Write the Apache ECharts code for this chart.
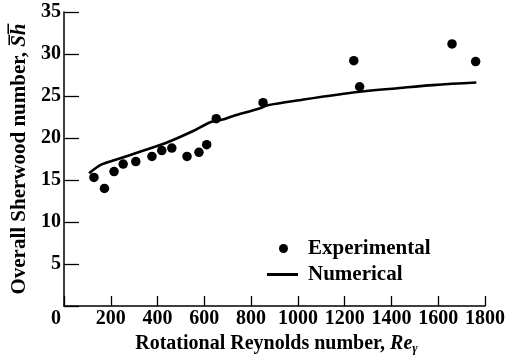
<!DOCTYPE html>
<html>
<head>
<meta charset="utf-8">
<script src="https://cdn.jsdelivr.net/npm/echarts@6/dist/echarts.min.js"></script>
<style>
  html, body { margin: 0; padding: 0; background: #fff; }
  #chart { width: 514px; height: 360px; }
</style>
</head>
<body>
<div id="chart"></div>
<script>
// Experimental measurements: rotational Reynolds number vs overall Sherwood number
const expRe = [128, 173, 214, 253, 307, 376, 418, 461, 526, 577, 610, 651, 851, 1239, 1264, 1659, 1760];
const expSh = [15.3, 14.0, 16.0, 16.9, 17.2, 17.8, 18.5, 18.8, 17.8, 18.3, 19.2, 22.3, 24.2, 29.2, 26.1, 31.2, 29.1];

// Numerical prediction curve
const numRe = [107, 157, 221, 340, 435, 550, 628, 678, 721, 835, 871, 1006, 1263, 1435, 1577, 1763];
const numSh = [15.8, 16.8, 17.4, 18.5, 19.4, 20.8, 21.9, 22.2, 22.6, 23.5, 23.9, 24.5, 25.5, 25.95, 26.3, 26.6];

// Axis ranges
const xMin = 0, xMax = 1800, xStep = 200;
const yMin = 0, yMax = 35, yStep = 5;

const FONT = '"Liberation Serif", "Times New Roman", serif';
const INK = '#000';

const txt = (size, extra) => Object.assign(
  { fontFamily: FONT, fontSize: size, fontWeight: 'bold', color: INK }, extra || {});

const chart = echarts.init(document.getElementById('chart'), null, { renderer: 'canvas' });

chart.setOption({
  backgroundColor: '#fff',
  animation: false,
  grid: { left: 64, right: 29, top: 12, bottom: 54, containLabel: false, outerBoundsMode: 'none' },
  legend: [
    {
      data: [{ name: 'Experimental', icon: 'circle' }],
      left: 274, top: 233,
      itemWidth: 31, itemHeight: 9, itemGap: 0,
      textStyle: txt(21, { padding: [0, 0, 0, 4] })
    },
    {
      data: [{ name: 'Numerical', icon: 'rect' }],
      left: 262, top: 259,
      itemWidth: 31, itemHeight: 3, itemGap: 0,
      textStyle: txt(21, { padding: [0, 0, 0, 5] })
    }
  ],
  xAxis: {
    type: 'value',
    min: xMin, max: xMax, interval: xStep,
    splitLine: { show: false },
    axisLine: { onZero: false, lineStyle: { color: INK, width: 1.5 } },
    axisTick: { inside: true, length: 10, lineStyle: { color: INK, width: 1.3 } },
    axisLabel: Object.assign(txt(20), {
      margin: 3,
      formatter: v => v === 0 ? '{z|0}' : String(v),
      rich: { z: txt(20, { padding: [0, 16, 0, 0] }) }
    }),
    name: 'Rotational Reynolds number, {it|Re}{sub|γ}',
    nameLocation: 'middle',
    nameGap: 21,
    nameTextStyle: txt(20, {
      padding: [0, 0, 0, 4],
      rich: {
        it: txt(20, { fontStyle: 'italic' }),
        sub: txt(13, { fontStyle: 'italic', padding: [9, 0, 0, 0] })
      }
    })
  },
  yAxis: {
    type: 'value',
    min: yMin, max: yMax, interval: yStep,
    splitLine: { show: false },
    axisLine: { show: true, onZero: false, lineStyle: { color: INK, width: 1.5 } },
    axisTick: { show: true, inside: true, length: 15, lineStyle: { color: INK, width: 1.3 } },
    axisLabel: Object.assign(txt(20), {
      margin: 3,
      formatter: v => v === 0 ? '' : String(v)
    }),
    name: 'Overall Sherwood number, {it|S\u0305h\u0305}',
    nameLocation: 'middle',
    nameRotate: 90,
    nameGap: 23,
    nameTextStyle: txt(21, {
      rich: { it: txt(21, { fontStyle: 'italic' }) }
    })
  },
  series: [
    {
      name: 'Numerical',
      type: 'line',
      data: numRe.map((x, i) => [x, numSh[i]]),
      showSymbol: false,
      symbol: 'none',
      smooth: 0.3,
      lineStyle: { color: INK, width: 2.6 },
      itemStyle: { color: INK },
      z: 2
    },
    {
      name: 'Experimental',
      type: 'scatter',
      data: expRe.map((x, i) => [x, expSh[i]]),
      symbol: 'circle',
      symbolSize: 9.5,
      itemStyle: { color: INK, opacity: 1 },
      z: 3
    }
  ]
});
</script>
</body>
</html>
